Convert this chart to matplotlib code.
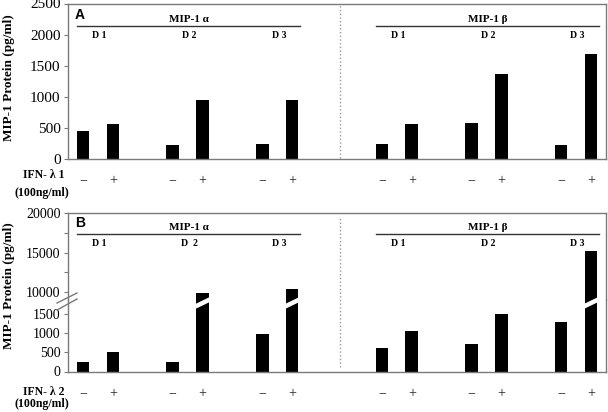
import matplotlib
matplotlib.use('Agg')
import matplotlib.pyplot as plt
from matplotlib.transforms import blended_transform_factory
from matplotlib.lines import Line2D
from matplotlib.patches import Polygon

# data
proteins = ['MIP-1 α', 'MIP-1 β']
donors_a = [['D 1', 'D 2', 'D 3'], ['D 1', 'D 2', 'D 3']]
donors_b = [['D 1', 'D  2', 'D 3'], ['D 1', 'D 2', 'D 3']]
treatments = ['−', '+']
# order: MIP-1a D1-,D1+,D2-,D2+,D3-,D3+, then MIP-1b same
vals_a = [450, 560, 230, 950, 245, 950, 245, 565, 580, 1370, 225, 1690]
vals_b = [250, 500, 250, 9900, 970, 10380, 600, 1040, 710, 1480, 1270, 15200]

plt.rcParams['font.family'] = ['Liberation Serif', 'DejaVu Serif']

W, H = 608, 412
fig = plt.figure(figsize=(W / 100, H / 100), dpi=100)

def fx(px):
    return px / W

def fy(py):
    return 1 - py / H

def axes_at(left, top, right, bottom):
    return fig.add_axes([fx(left), fy(bottom), fx(right) - fx(left), fy(top) - fy(bottom)])

xpos = [p * 10 + d * 3 + t for p in range(2) for d in range(3) for t in range(2)]
bw = 0.42
grey = '#7a7a7a'

def style(ax, size):
    ax.set_xlim(-0.52, 17.5)
    ax.set_xticks([])
    for s in ax.spines.values():
        s.set_color(grey)
        s.set_linewidth(1)
    ax.tick_params(axis='y', direction='out', length=3, width=0.8, color=grey,
                   labelsize=size, pad=2)

def headers(ax, donors, y_text, y_line, y_d):
    tr = blended_transform_factory(ax.transData, fig.transFigure)
    for p, name in enumerate(proteins):
        x0 = p * 10
        ax.text(x0 + 3.55, fy(y_text), name, transform=tr, ha='center', va='center',
                fontsize=8, fontweight='bold')
        fig.add_artist(Line2D([x0 - 0.2, x0 + 7.25], [fy(y_line)] * 2, transform=tr,
                              color='#333333', lw=1))
        for d, dn in enumerate(donors[p]):
            ax.text(x0 + d * 3 + 0.55, fy(y_d), dn, transform=tr, ha='center', va='center',
                    fontsize=7, fontweight='bold')

def bottom_labels(ax, y_pm, num, y_ifn, y_conc):
    tr = blended_transform_factory(ax.transData, fig.transFigure)
    for i, x in enumerate(xpos):
        ax.text(x, fy(y_pm), treatments[i % 2], transform=tr, ha='center', va='center',
                fontsize=10, color='#222222')
    fig.text(fx(44), fy(y_ifn), 'IFN- λ ' + num, ha='center', va='center',
             fontsize=8.5, fontweight='bold')
    fig.text(fx(42), fy(y_conc), '(100ng/ml)', ha='center', va='center',
             fontsize=8.5, fontweight='bold')

def divider(ax, y_top, y_bot):
    tr = blended_transform_factory(ax.transData, fig.transFigure)
    fig.add_artist(Line2D([8.6, 8.6], [fy(y_bot), fy(y_top)], transform=tr,
                          color='#9a9a9a', lw=1, ls=':'))

# panel A
ax_a = axes_at(67.5, 3.5, 606, 159)
ax_a.bar(xpos, vals_a, width=bw, color='black')
ax_a.set_ylim(0, 2500)
ax_a.set_yticks(range(0, 2501, 500))
style(ax_a, 11)
headers(ax_a, donors_a, 19, 26, 36)
bottom_labels(ax_a, 181, '1', 175, 193)
divider(ax_a, 5, 158)
fig.text(fx(80), fy(15), 'A', family='Liberation Sans', fontweight='bold',
         fontsize=10, ha='center', va='center')
fig.text(fx(9), fy(78), 'MIP-1 Protein (pg/ml)', rotation=90, ha='center', va='center',
         fontsize=9.5, fontweight='bold')

# panel B (broken axis)
ax_hi = axes_at(67.5, 213, 606, 300)
ax_lo = axes_at(67.5, 300, 606, 371.5)
for ax in (ax_hi, ax_lo):
    ax.bar(xpos, vals_b, width=bw, color='black')
    style(ax, 10)
ax_hi.set_ylim(9000, 20000)
ax_hi.set_yticks([10000, 12500, 15000, 17500, 20000])
ax_hi.set_yticklabels(['10000', '', '15000', '', '20000'])
ax_hi.spines['bottom'].set_visible(False)
ax_lo.set_ylim(0, 1850)
ax_lo.set_yticks([0, 500, 1000, 1500])
ax_lo.spines['top'].set_visible(False)

headers(ax_hi, donors_b, 228, 234, 244)
bottom_labels(ax_lo, 394, '2', 392, 404)
divider(ax_lo, 217, 367)
fig.text(fx(80), fy(223), 'B', family='Liberation Sans', fontweight='bold',
         fontsize=10, ha='center', va='center')
fig.text(fx(9), fy(286), 'MIP-1 Protein (pg/ml)', rotation=90, ha='center', va='center',
         fontsize=9.5, fontweight='bold')

# break marks on the axis
for y1, y2 in [(303, 293), (310, 299)]:
    fig.add_artist(Line2D([fx(57), fx(77)], [fy(y1), fy(y2)], color=grey, lw=1))

# white slanted cut across the broken bars
for x, v in zip(xpos, vals_b):
    if v > 1850:
        xl = ax_lo.transData.transform((x - bw / 2, 0))[0] - 1
        xr = ax_lo.transData.transform((x + bw / 2, 0))[0] + 1
        pts = [(fx(xl), fy(304)), (fx(xr), fy(297)), (fx(xr), fy(302)), (fx(xl), fy(309))]
        fig.add_artist(Polygon(pts, closed=True, transform=fig.transFigure,
                               facecolor='white', edgecolor='none'))

fig.savefig('out.png', dpi=100)
